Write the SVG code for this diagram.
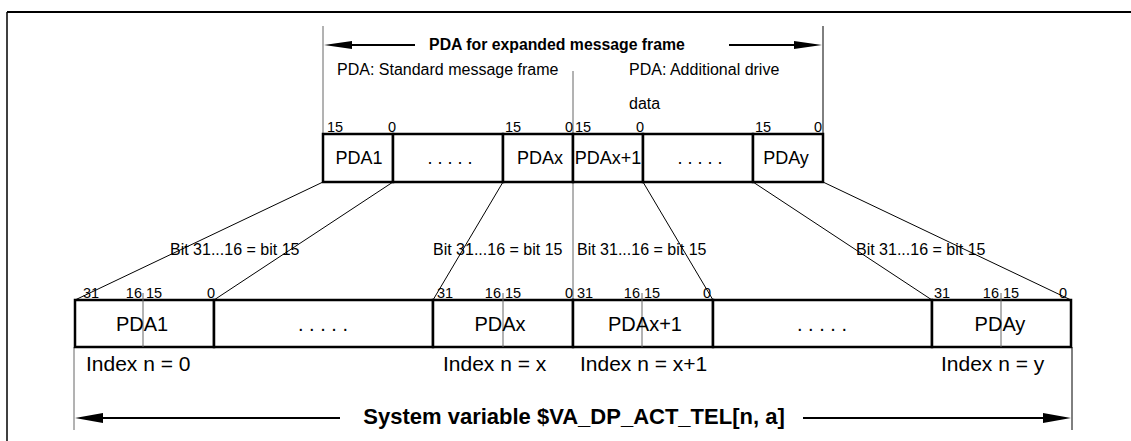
<svg xmlns="http://www.w3.org/2000/svg" width="1131" height="441" viewBox="0 0 1131 441">
<style>
text{font-family:"Liberation Sans",Arial,sans-serif;fill:#000}
.bx{fill:#fff;stroke:#000;stroke-width:2.5}
.ln{stroke:#000;stroke-width:1;fill:none}
.gl{stroke:#666;stroke-width:1;fill:none}
.ar{stroke:#000;stroke-width:2;fill:none}
.n{font-size:14.5px}
.t{font-size:18px}
.b{font-size:20px}
.l{font-size:16px}
.i{font-size:21px}
.h{font-weight:bold}
</style>
<rect width="1131" height="441" fill="#fff"/>
<g id="frame">
<line x1="7" y1="12" x2="1131" y2="12" stroke="#000" stroke-width="2"/>
<line x1="7" y1="12" x2="7" y2="441" stroke="#000" stroke-width="1.5"/>
</g>
<g id="connectors">
<line class="gl" x1="323" y1="26" x2="323" y2="134"/>
<line class="ln" x1="823" y1="26" x2="823" y2="134"/>
<line class="ar" x1="345" y1="45" x2="415" y2="45"/>
<polygon points="324,45 352,41 352,49"/>
<line class="ar" x1="729" y1="45" x2="800" y2="45"/>
<polygon points="822,45 794,41 794,49"/>
<line class="gl" x1="573" y1="71" x2="573" y2="300"/>
<line class="ln" x1="323" y1="182" x2="75" y2="300"/>
<line class="ln" x1="393" y1="182" x2="214" y2="300"/>
<line class="ln" x1="503" y1="182" x2="433" y2="300"/>
<line class="ln" x1="643" y1="182" x2="713" y2="300"/>
<line class="ln" x1="753" y1="182" x2="932" y2="300"/>
<line class="ln" x1="823" y1="182" x2="1071" y2="300"/>
<line class="gl" x1="74" y1="347" x2="74" y2="430"/>
<line class="ln" x1="1072" y1="347" x2="1072" y2="430"/>
<line class="ar" x1="100" y1="418" x2="340" y2="418"/>
<polygon points="75,418 103,413 103,423"/>
<line class="ar" x1="803" y1="418" x2="1045" y2="418"/>
<polygon points="1071,418 1043,413 1043,423"/>
</g>
<g id="labels">
<text class="h" x="557" y="50" text-anchor="middle" style="font-size:15.8px">PDA for expanded message frame</text>
<text class="l" x="337" y="75">PDA: Standard message frame</text>
<text class="l" x="629" y="75">PDA: Additional drive</text>
<text class="l" x="629" y="109">data</text>
<text class="l" x="170" y="255">Bit 31...16 = bit 15</text>
<text class="l" x="433" y="255">Bit 31...16 = bit 15</text>
<text class="l" x="577" y="255">Bit 31...16 = bit 15</text>
<text class="l" x="856" y="255">Bit 31...16 = bit 15</text>
<text class="h" x="574" y="424" text-anchor="middle" style="font-size:22px">System variable $VA_DP_ACT_TEL[n, a]</text>
</g>
<g id="top-pda1">
<rect class="bx" x="323" y="134" width="70" height="48"/>
<text class="t" x="359" y="164" text-anchor="middle">PDA1</text>
<text class="n" x="327" y="132">15</text>
<text class="n" x="396" y="132" text-anchor="end">0</text>
</g>
<g id="top-dots1">
<rect class="bx" x="393" y="134" width="110" height="48"/>
<text class="t" x="450" y="164" text-anchor="middle">. . . . .</text>
</g>
<g id="top-pdax">
<rect class="bx" x="503" y="134" width="70" height="48"/>
<text class="t" x="540" y="164" text-anchor="middle">PDAx</text>
<text class="n" x="505" y="132">15</text>
<text class="n" x="573" y="132" text-anchor="end">0</text>
</g>
<g id="top-pdax1">
<rect class="bx" x="573" y="134" width="70" height="48"/>
<text class="t" x="608" y="164" text-anchor="middle">PDAx+1</text>
<text class="n" x="575" y="132">15</text>
<text class="n" x="644" y="132" text-anchor="end">0</text>
</g>
<g id="top-dots2">
<rect class="bx" x="643" y="134" width="110" height="48"/>
<text class="t" x="700" y="164" text-anchor="middle">. . . . .</text>
</g>
<g id="top-pday">
<rect class="bx" x="753" y="134" width="70" height="48"/>
<text class="t" x="786" y="164" text-anchor="middle">PDAy</text>
<text class="n" x="755" y="132">15</text>
<text class="n" x="822" y="132" text-anchor="end">0</text>
</g>
<g id="bot-pda1">
<rect class="bx" x="75" y="300" width="139" height="47"/>
<line class="gl" x1="143" y1="293" x2="143" y2="347"/>
<text class="b" x="142" y="331" text-anchor="middle">PDA1</text>
<text class="n" x="83" y="298">31</text>
<text class="n" x="142" y="298" text-anchor="end">16</text>
<text class="n" x="146" y="298">15</text>
<text class="n" x="215" y="298" text-anchor="end">0</text>
<text class="i" x="86" y="371">Index n = 0</text>
</g>
<g id="bot-dots1">
<rect class="bx" x="214" y="300" width="219" height="47"/>
<text class="b" x="323" y="331" text-anchor="middle">. . . . .</text>
</g>
<g id="bot-pdax">
<rect class="bx" x="433" y="300" width="140" height="47"/>
<line class="gl" x1="503" y1="293" x2="503" y2="347"/>
<text class="b" x="500" y="331" text-anchor="middle">PDAx</text>
<text class="n" x="437" y="298">31</text>
<text class="n" x="501" y="298" text-anchor="end">16</text>
<text class="n" x="505" y="298">15</text>
<text class="n" x="573" y="298" text-anchor="end">0</text>
<text class="i" x="443" y="371">Index n = x</text>
</g>
<g id="bot-pdax1">
<rect class="bx" x="573" y="300" width="140" height="47"/>
<line class="gl" x1="642" y1="293" x2="642" y2="347"/>
<text class="b" x="645" y="331" text-anchor="middle">PDAx+1</text>
<text class="n" x="577" y="298">31</text>
<text class="n" x="640" y="298" text-anchor="end">16</text>
<text class="n" x="644" y="298">15</text>
<text class="n" x="711" y="298" text-anchor="end">0</text>
<text class="i" x="580" y="371">Index n = x+1</text>
</g>
<g id="bot-dots2">
<rect class="bx" x="713" y="300" width="219" height="47"/>
<text class="b" x="822" y="331" text-anchor="middle">. . . . .</text>
</g>
<g id="bot-pday">
<rect class="bx" x="932" y="300" width="139" height="47"/>
<line class="gl" x1="1001" y1="293" x2="1001" y2="347"/>
<text class="b" x="1000" y="331" text-anchor="middle">PDAy</text>
<text class="n" x="934" y="298">31</text>
<text class="n" x="999" y="298" text-anchor="end">16</text>
<text class="n" x="1003" y="298">15</text>
<text class="n" x="1067" y="298" text-anchor="end">0</text>
<text class="i" x="941" y="371">Index n = y</text>
</g>
</svg>
